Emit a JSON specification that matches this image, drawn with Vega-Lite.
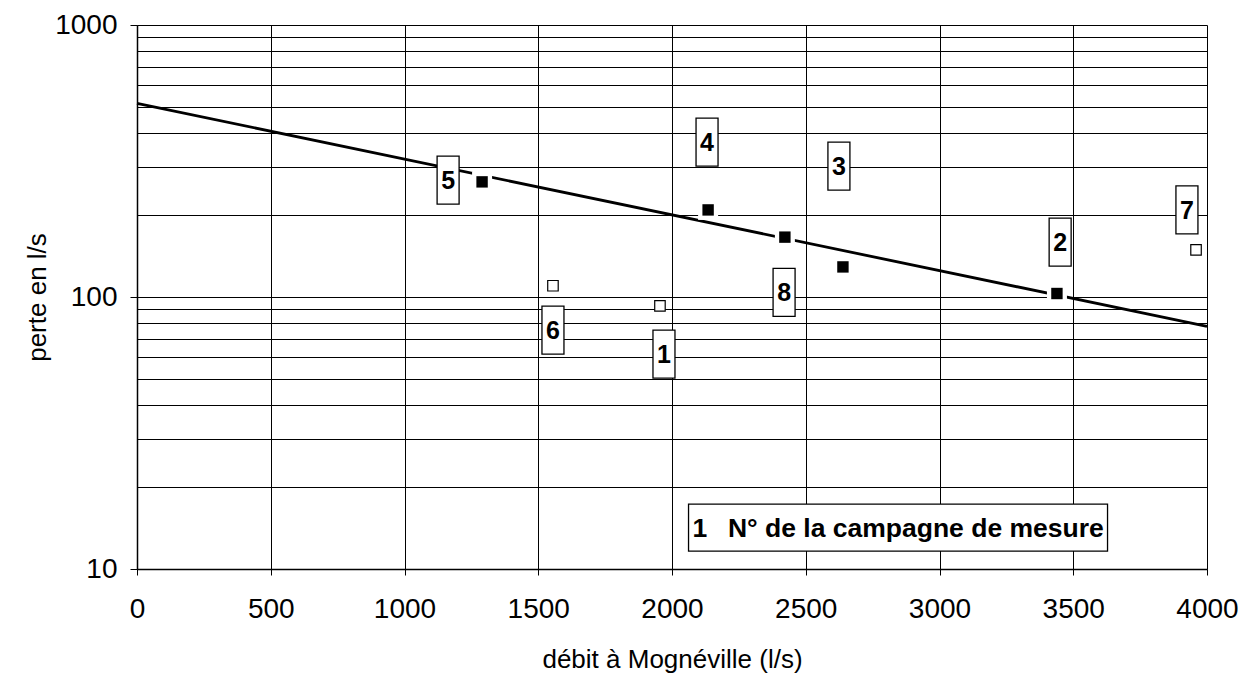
{
  "$schema": "https://vega.github.io/schema/vega-lite/v6.json",
  "width": 1070,
  "height": 544,
  "autosize": {"type": "none"},
  "padding": {"left": 137, "top": 25, "right": 32, "bottom": 104},
  "background": "white",
  "config": {"view": {"stroke": null}, "font": "Liberation Sans"},
  "datasets": {
    "trend": [{"debit": 0, "perte": 515}, {"debit": 4000, "perte": 78}],
    "points": [
      {"campagne": "5", "debit": 1290, "perte": 265, "type": "plein"},
      {"campagne": "4", "debit": 2135, "perte": 209, "type": "plein"},
      {"campagne": "8", "debit": 2422, "perte": 166, "type": "plein"},
      {"campagne": "3", "debit": 2639, "perte": 129, "type": "plein"},
      {"campagne": "2", "debit": 3439, "perte": 103, "type": "plein"},
      {"campagne": "6", "debit": 1555, "perte": 110, "type": "vide"},
      {"campagne": "1", "debit": 1955, "perte": 92.7, "type": "vide"},
      {"campagne": "7", "debit": 3959, "perte": 149, "type": "vide"}
    ],
    "labels": [
      {"campagne": "5", "debit": 1163, "perte": 269},
      {"campagne": "4", "debit": 2131, "perte": 371},
      {"campagne": "3", "debit": 2624, "perte": 303},
      {"campagne": "2", "debit": 3451, "perte": 159},
      {"campagne": "7", "debit": 3925, "perte": 209},
      {"campagne": "8", "debit": 2419, "perte": 104},
      {"campagne": "6", "debit": 1555, "perte": 75.6},
      {"campagne": "1", "debit": 1970, "perte": 61.7}
    ],
    "noteBox": [{"debit": 2845, "perte": 14.2}],
    "noteText": [
      {"debit": 2077, "perte": 14.2, "text": "1"},
      {"debit": 2209, "perte": 14.2, "text": "N° de la campagne de mesure"}
    ]
  },
  "encoding": {
    "x": {
      "field": "debit", "type": "quantitative",
      "scale": {"domain": [0, 4000], "nice": false, "zero": false},
      "axis": {
        "title": "débit à Mognéville (l/s)",
        "values": [0, 500, 1000, 1500, 2000, 2500, 3000, 3500, 4000],
        "format": "d",
        "grid": true, "gridColor": "black", "gridWidth": 1, "gridOpacity": 1,
        "domainColor": "black", "domainWidth": 1.5,
        "tickColor": "black", "tickSize": 6, "tickWidth": 1,
        "labelFontSize": 28, "labelColor": "black", "labelPadding": 20, "labelFont": "Liberation Sans",
        "labelFlush": false,
        "titleFontSize": 26, "titleFontWeight": "normal", "titleColor": "black", "titlePadding": 23, "titleFont": "Liberation Sans"
      }
    },
    "y": {
      "field": "perte", "type": "quantitative",
      "scale": {"type": "log", "domain": [10, 1000], "nice": false},
      "axis": {
        "title": "perte en l/s",
        "values": [10, 20, 30, 40, 50, 60, 70, 80, 90, 100, 200, 300, 400, 500, 600, 700, 800, 900, 1000],
        "format": "d",
        "labelExpr": "indexof([10, 100, 1000], datum.value) >= 0 ? datum.label : ''",
        "tickOpacity": {"condition": {"test": "indexof([10, 100, 1000], datum.value) >= 0", "value": 1}, "value": 0},
        "grid": true, "gridColor": "black", "gridWidth": 1, "gridOpacity": 1,
        "domainColor": "black", "domainWidth": 1.5,
        "tickColor": "black", "tickSize": 7, "tickWidth": 1,
        "labelFontSize": 28, "labelColor": "black", "labelPadding": 13, "labelFont": "Liberation Sans",
        "labelFlush": false,
        "titleFontSize": 26, "titleFontWeight": "normal", "titleColor": "black", "titlePadding": 4, "titleFont": "Liberation Sans"
      }
    }
  },
  "layer": [
    {
      "data": {"name": "trend"},
      "mark": {"type": "line", "color": "black", "strokeWidth": 2.8},
      "encoding": {}
    },
    {
      "data": {"name": "points"},
      "transform": [{"filter": "datum.type === 'plein'"}],
      "mark": {"type": "point", "shape": "square", "filled": true, "color": "white", "opacity": 1, "size": 400},
      "encoding": {}
    },
    {
      "data": {"name": "points"},
      "transform": [{"filter": "datum.type === 'plein'"}],
      "mark": {"type": "point", "shape": "square", "filled": true, "color": "black", "opacity": 1, "size": 130},
      "encoding": {}
    },
    {
      "data": {"name": "points"},
      "transform": [{"filter": "datum.type === 'vide'"}],
      "mark": {"type": "point", "shape": "square", "filled": true, "fill": "white", "stroke": "black", "strokeWidth": 1.2, "opacity": 1, "size": 110},
      "encoding": {}
    },
    {
      "data": {"name": "labels"},
      "mark": {"type": "point", "shape": "M-0.4583,-1H0.4583V1H-0.4583Z", "filled": true, "fill": "white", "stroke": "black", "strokeWidth": 1.3, "opacity": 1, "size": 2304},
      "encoding": {}
    },
    {
      "data": {"name": "labels"},
      "mark": {"type": "text", "font": "Liberation Sans", "fontWeight": "bold", "fontSize": 25, "color": "black", "align": "center", "baseline": "middle", "dy": 1},
      "encoding": {"text": {"field": "campagne"}}
    },
    {
      "data": {"name": "noteBox"},
      "mark": {"type": "point", "shape": "M-1,-0.1122H1V0.1122H-1Z", "filled": true, "fill": "white", "stroke": "black", "strokeWidth": 1.3, "opacity": 1, "size": 175561},
      "encoding": {}
    },
    {
      "data": {"name": "noteText"},
      "mark": {"type": "text", "font": "Liberation Sans", "fontWeight": "bold", "fontSize": 26.5, "color": "black", "align": "left", "baseline": "middle", "dy": 1},
      "encoding": {"text": {"field": "text"}}
    }
  ]
}
